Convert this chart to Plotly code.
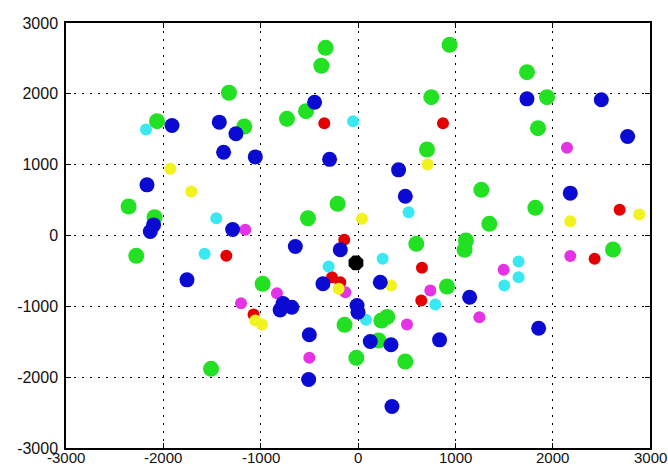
import plotly.graph_objects as go

green_x = [-333, -377, 941, -1326, 753, 1736, 1942, 1849, -730, -534, 709, -2065, -1168,
           -2357, -2090, -2278, -514, -210, 599, 914, -980, 1267, 1822, 1349, 1109, 1095,
           2620, -1510, -138, 240, 300, -17, 486, 212]
green_y = [2650, 2396, 2692, 2015, 1953, 2306, 1953, 1515, 1647, 1755, 1214, 1614, 1539,
           409, 258, -287, 244, 447, -118, -720, -682, 645, 391, 165, -71, -202,
           -198, -1882, -1261, -1200, -1150, -1727, -1779, -1482]

blue_x = [-1911, -1425, -1254, -1381, -1055, -446, -292, 1736, 2500, 2770, 417, 486, 2181,
          -2168, -2100, -2134, -1757, -1288, -644, -182, -360, 229, -10, 0, -800, -770, -680,
          1147, -500, -507, 126, 339, 349, 838, 1856]
blue_y = [1553, 1600, 1436, 1176, 1110, 1882, 1075, 1929, 1916, 1398, 927, 555, 598,
          715, 150, 56, -626, 85, -155, -202, -682, -659, -988, -1082, -1050, -960, -1012,
          -871, -1402, -2033, -1497, -1543, -2414, -1473, -1309]

red_x = [-346, 873, -1353, -141, 657, 650, -267, -182, 2688, 2431, -1073]
red_y = [1586, 1586, -287, -61, -456, -918, -588, -659, 363, -329, -1115]

cyan_x = [-2178, -51, -1456, -1576, 520, 253, -302, 1650, 1650, 1503, 794, 82]
cyan_y = [1497, 1614, 244, -258, 329, -329, -438, -367, -588, -706, -974, -1190]

magenta_x = [2147, -1158, -833, -1202, -130, 743, 2181, 1496, 503, -500, 1247]
magenta_y = [1238, 80, -814, -956, -800, -777, -290, -485, -1257, -1727, -1153]

yellow_x = [-1928, -1713, 41, 715, -199, 339, 2181, 2890, -1055, -987]
yellow_y = [941, 621, 235, 1002, -753, -706, 202, 296, -1200, -1257]

black_x = [-21]
black_y = [-386]

tick_vals = [-3000, -2000, -1000, 0, 1000, 2000, 3000]
tick_text = ["-3000", "-2000", "-1000", "0", "1000", "2000", "3000"]

FONT = dict(family="Liberation Sans", size=16, color="#111111")
XFONT = dict(family="Liberation Sans", size=15, color="#111111")

fig = go.Figure()

def add(xs, ys, color, size, symbol="circle"):
    fig.add_trace(go.Scatter(x=xs, y=ys, mode="markers",
                             marker=dict(color=color, size=size, symbol=symbol,
                                         line=dict(width=0)),
                             showlegend=False, hoverinfo="skip", cliponaxis=False))

add(green_x, green_y, "#22e022", 16)
add(red_x, red_y, "#e40000", 12)
add(cyan_x, cyan_y, "#3ae8f2", 12)
add(magenta_x, magenta_y, "#e433e4", 12)
add(yellow_x, yellow_y, "#f2f21e", 12)
add(blue_x, blue_y, "#0a0ad2", 15)
add(black_x, black_y, "#000000", 16, "octagon")

axis_common = dict(
    tickmode="array", tickvals=tick_vals, ticktext=tick_text,
    range=[-3000, 3000], showgrid=True, gridcolor="black", gridwidth=1,
    griddash="1.5px,6.5px", zeroline=False, showline=True, linecolor="black",
    linewidth=1.5, mirror="allticks", ticks="inside", ticklen=5,
    tickcolor="black", automargin=False, tickfont=FONT,
)

# x tick labels placed as text just under the axis (tight like the original)
for v, t in zip(tick_vals, tick_text):
    fig.add_annotation(x=v, y=0, xref="x", yref="paper", text=t, showarrow=False,
                       xanchor="center", yanchor="middle", yshift=-9, borderpad=0,
                       font=XFONT)

fig.update_layout(
    width=668, height=466,
    margin=dict(l=66, r=18, t=23, b=18),
    paper_bgcolor="white", plot_bgcolor="white",
    xaxis=dict(**axis_common, showticklabels=False),
    yaxis=dict(**axis_common, ticklabelstandoff=3),
)

fig.write_html("out.html",
               config={"displayModeBar": False},
               post_script="document.body.style.margin='0';"
                           "document.body.style.overflow='hidden';")
